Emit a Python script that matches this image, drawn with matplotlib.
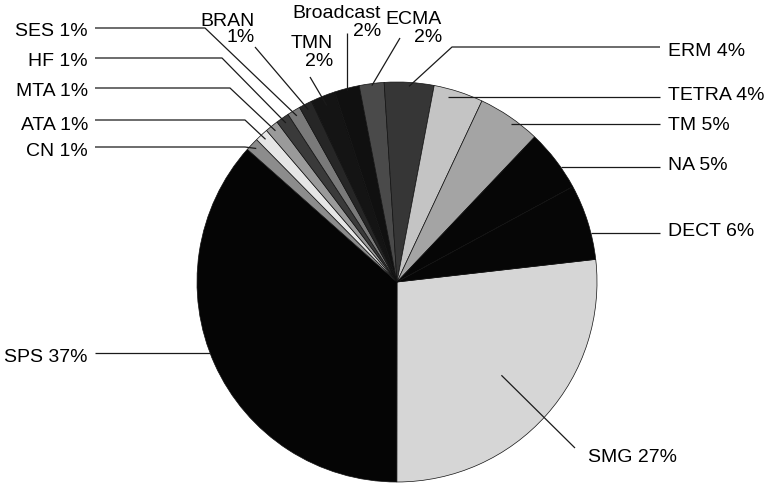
"""Share of work items per group, pie with leader labels."""

import matplotlib

matplotlib.use("Agg")
import matplotlib.pyplot as plt
import numpy as np

# slices, clockwise from the SMG wedge
names = ["SMG", "SPS", "CN", "ATA", "MTA", "HF", "SES", "BRAN",
         "TMN", "Broadcast", "ECMA", "ERM", "TETRA", "TM", "NA", "DECT"]
shares = [26.8, 36.5, 1.07, 1.07, 1.07, 1.07, 1.07, 1.07,
          2.0, 2.0, 2.0, 4.0, 4.0, 5.1, 5.0, 6.1]
printed_pct = [27, 37, 1, 1, 1, 1, 1, 1, 2, 2, 2, 4, 4, 5, 5, 6]
grays = ["#d6d6d6", "#050505", "#8c8c8c", "#e6e6e6", "#9a9a9a", "#3a3a3a",
         "#7a7a7a", "#262626", "#141414", "#101010", "#4a4a4a", "#363636",
         "#c4c4c4", "#a4a4a4", "#060606", "#060606"]

W, H = 765, 487
CX, CY, R = 397, 282, 200

plt.rcParams["font.family"] = ["Liberation Sans", "DejaVu Sans"]

fig = plt.figure(figsize=(W / 100, H / 100), dpi=100)
ax = fig.add_axes([0, 0, 1, 1])

# y axis is flipped below, so counterclock=True runs clockwise on screen
wedges, _ = ax.pie(
    shares,
    colors=grays,
    startangle=-6.5,
    counterclock=True,
    radius=R,
    center=(CX, CY),
    wedgeprops=dict(linewidth=0.5, edgecolor="#111111"),
)
ax.set_xlim(0, W)
ax.set_ylim(H, 0)
ax.set_aspect("equal")
ax.axis("off")

idx = {n: i for i, n in enumerate(names)}


def anchor(name, k=0.97):
    w = wedges[idx[name]]
    t = np.deg2rad((w.theta1 + w.theta2) / 2)
    return (CX + k * R * np.cos(t), CY + k * R * np.sin(t))


def on_circle(y, k=1.0, side=1):
    return (CX + side * np.sqrt((k * R) ** 2 - (y - CY) ** 2), y)


def label(name):
    return f"{name} {printed_pct[idx[name]]}%"


line_kw = dict(color="#1a1a1a", lw=0.9, solid_capstyle="butt")
text_kw = dict(fontsize=14, color="black", va="center")

# left column
left = [
    ("SES", 32, [(95, 28), (205, 28)]),
    ("HF", 62, [(95, 58), (222, 58)]),
    ("MTA", 91, [(95, 88), (230, 88)]),
    ("ATA", 125, [(95, 120), (245, 120)]),
    ("CN", 152, [(95, 147), (245, 147)]),
]
for name, ty, pts in left:
    ax.text(88, ty, label(name), ha="right", **text_kw)
    path = pts + [anchor(name)]
    ax.plot(*zip(*path), **line_kw)

ax.text(88, 357, label("SPS"), ha="right", **text_kw)
ax.plot(*zip((95, 353), on_circle(353, 1.0, -1)), **line_kw)

# two-line labels along the top: name above, percent below, right-aligned
top = [
    ("BRAN", 255, 21, 37, (255, 47), 0.97),
    ("TMN", 333, 44, 62, (310, 77), 0.95),
    ("ECMA", 442, 19, 37, (400, 38), 0.99),
]
for name, tx, y1, y2, start, k in top:
    ax.text(tx, y1, name, ha="right", **text_kw)
    ax.text(tx, y2, f"{printed_pct[idx[name]]}%", ha="right", **text_kw)
    ax.plot(*zip(start, anchor(name, k)), **line_kw)

bx, by = anchor("Broadcast", 0.99)
ax.text(381, 14, "Broadcast", ha="right", **text_kw)
ax.text(381, 32, f"{printed_pct[idx['Broadcast']]}%", ha="right", **text_kw)
ax.plot([bx, bx], [33, by], **line_kw)

# right column
ax.text(668, 52, label("ERM"), ha="left", **text_kw)
ax.plot(*zip((660, 47), (452, 47), anchor("ERM", 0.98)), **line_kw)

right = [("TETRA", 96, 97, 0.96), ("TM", 126, 124, 0.975),
         ("NA", 166, 167, 1.0), ("DECT", 232, 233, 1.0)]
for name, ty, ly, k in right:
    ax.text(668, ty, label(name), ha="left", **text_kw)
    ax.plot(*zip((660, ly), on_circle(ly, k)), **line_kw)

ax.text(588, 457, label("SMG"), ha="left", **text_kw)
ax.plot(*zip(anchor("SMG", 0.7), (575, 448)), **line_kw)

fig.savefig("out.png", dpi=100, facecolor="white")
